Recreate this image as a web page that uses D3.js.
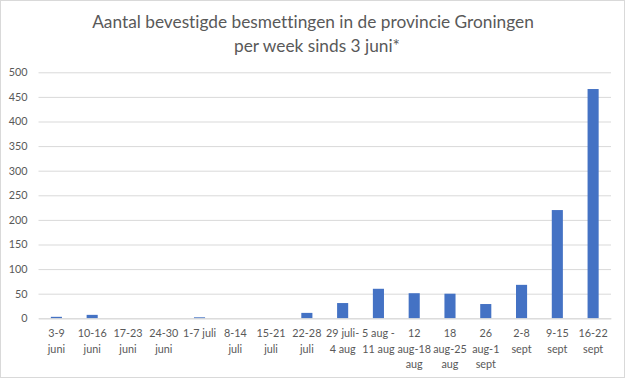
<!DOCTYPE html>
<html><head><meta charset="utf-8">
<script src="https://cdn.jsdelivr.net/npm/d3@7"></script>
<style>body{margin:0;background:#fff}svg{display:block}text{font-family:Lato,"Open Sans",sans-serif;font-variant-ligatures:none}</style>
</head><body>
<svg id="c" width="626" height="379"></svg>
<script>
const categories = [
  ["3-9","juni"],["10-16","juni"],["17-23","juni"],["24-30","juni"],["1-7 juli"],
  ["8-14","juli"],["15-21","juli"],["22-28","juli"],["29 juli-","4 aug"],["5 aug -","11 aug"],
  ["12","aug-18","aug"],["18","aug-25","aug"],["26","aug-1","sept"],["2-8","sept"],["9-15","sept"],["16-22","sept"]
];
const values = [3, 7, 0, 0, 2, 0, 0, 11, 31, 60, 51, 50, 29, 68, 220, 466];
const yTicks = [0,50,100,150,200,250,300,350,400,450,500];
const titleLines = ["Aantal bevestigde besmettingen in de provincie Groningen","per week sinds 3 juni*"];

const svg = d3.select("#c");
svg.append("rect").attr("x",0.5).attr("y",0.5).attr("width",624).attr("height",377)
  .attr("fill","#fff").attr("stroke","#d9d9d9");

const m = {l:38.5, r:611, t:72.3, b:318.3};
const x = d3.scaleBand().domain(d3.range(categories.length)).range([m.l, m.r]).paddingInner(0.69).paddingOuter(0.345);
const y = d3.scaleLinear().domain([0,500]).range([m.b, m.t]);

const yAxis = d3.axisLeft(y).tickValues(yTicks).tickSize(-(m.r-m.l)).tickPadding(11);
const gy = svg.append("g").attr("transform",`translate(${m.l},0)`).call(yAxis);
gy.select(".domain").remove();
gy.selectAll(".tick line").attr("stroke","#d9d9d9").attr("stroke-width",1);
gy.selectAll(".tick text").attr("fill","#595959").attr("font-size","10.8px").attr("font-family","Lato");

svg.append("g").selectAll("rect").data(values).join("rect")
  .attr("x",(d,i)=>x(i)).attr("width",x.bandwidth())
  .attr("y",d=>y(d)).attr("height",d=>y(0)-y(d)).attr("fill","#4472c4");

const xAxis = d3.axisBottom(x).tickSize(0).tickFormat(()=>"");
const gx = svg.append("g").attr("transform",`translate(0,${m.b})`).call(xAxis);
gx.select(".domain").attr("stroke","#d9d9d9");
gx.selectAll(".tick").each(function(i){
  const t = d3.select(this).append("text").attr("fill","#595959").attr("font-size","10.8px")
    .attr("text-anchor","middle").attr("y",19);
  categories[i].forEach((s,k)=>t.append("tspan").attr("x",0).attr("dy",k?15.5:0).text(s));
});

const tt = svg.append("text").attr("text-anchor","middle").attr("fill","#595959").attr("font-size","17.3px");
titleLines.forEach((s,k)=>tt.append("tspan").attr("x",k?317:313).attr("y",27.8+k*23.9).text(s));
</script>
</body></html>
